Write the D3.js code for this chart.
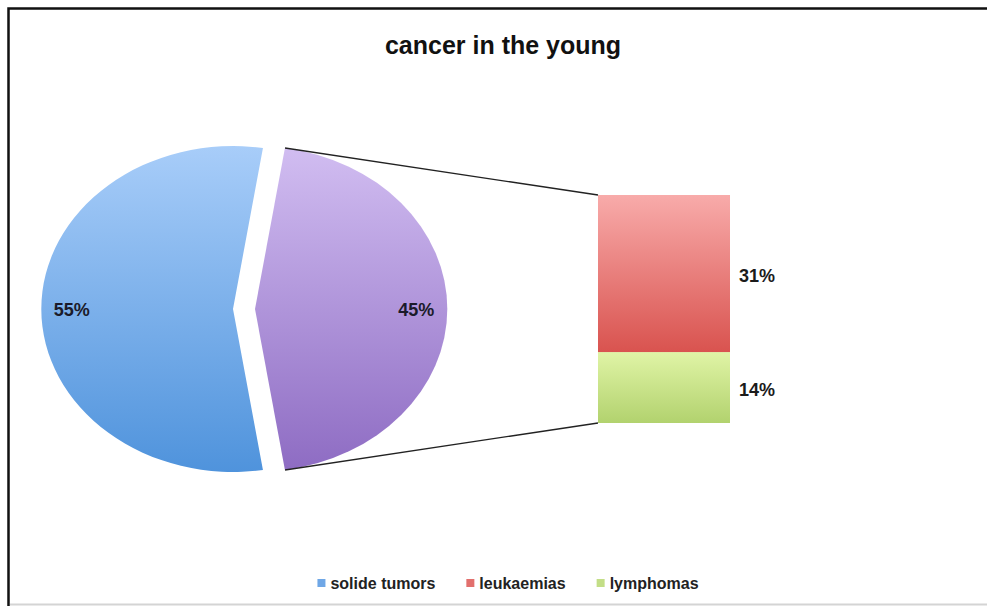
<!DOCTYPE html>
<html>
<head>
<meta charset="utf-8">
<script src="https://cdn.jsdelivr.net/npm/d3@7"></script>
<style>
  body { margin: 0; background: #fff; overflow: hidden; }
  svg { display: block; }
</style>
</head>
<body>
<svg id="chart" width="987" height="606"></svg>
<script>
//Data
var pieNames = ["solide tumors", "other"];
var pieValues = [55, 45];
var barNames = ["lymphomas", "leukaemias"];
var barValues = [14, 31];
var legendNames = ["solide tumors", "leukaemias", "lymphomas"];

var svg = d3.select("#chart");
var font = "'Liberation Sans', Arial, sans-serif";

//Frame
svg.append("rect")
   .attr("x", 8.5).attr("y", 8.5)
   .attr("width", 1020).attr("height", 640)
   .style("fill", "#fff")
   .style("stroke", "#111")
   .style("stroke-width", 2.5);
svg.append("line")
   .attr("x1", 10).attr("x2", 987).attr("y1", 604.5).attr("y2", 604.5)
   .style("stroke", "#d4d4d4").style("stroke-width", 2);

//Gradients
var defs = svg.append("defs");
function grad(id, top, bottom) {
    var g = defs.append("linearGradient").attr("id", id)
                .attr("x1", 0).attr("y1", 0).attr("x2", 0).attr("y2", 1);
    g.append("stop").attr("offset", "0%").attr("stop-color", top);
    g.append("stop").attr("offset", "100%").attr("stop-color", bottom);
}
grad("gBlue", "#a8cdf9", "#4f93dc");
grad("gPurple", "#d1bdf1", "#8e6cc3");
grad("gRed", "#f8abaa", "#d9534f");
grad("gGreen", "#e0f4a6", "#b2d26e");

//Title
svg.append("text")
   .attr("x", 503).attr("y", 54)
   .attr("text-anchor", "middle")
   .style("font-family", font)
   .style("font-weight", "bold")
   .style("font-size", "25px")
   .style("fill", "#111")
   .text("cancer in the young");

//Pie
var cx = 244, cy = 309, rx = 192, ry = 163, explode = 11;
var deg = Math.PI / 180;
var pie = d3.pie().sort(null).startAngle(171 * deg).endAngle(531 * deg);
var arcs = pie(pieValues);
var arc = d3.arc().innerRadius(0).outerRadius(1);
var fills = ["url(#gBlue)", "url(#gPurple)"];

function offset(d) {
    var mid = (d.startAngle + d.endAngle) / 2;
    return [cx + explode * Math.sin(mid), cy - explode * Math.cos(mid)];
}

var slices = svg.append("g").selectAll("g")
    .data(arcs).enter().append("g")
    .attr("transform", function(d){
        var o = offset(d);
        return "translate(" + o[0] + "," + o[1] + ")";
    });
slices.append("path")
    .attr("transform", "scale(" + rx + "," + ry + ")")
    .attr("d", arc)
    .style("fill", function(d, i){ return fills[i]; });

//Pie labels
slices.append("text")
    .attr("x", function(d){ var mid = (d.startAngle + d.endAngle) / 2; return 0.84 * rx * Math.sin(mid); })
    .attr("y", function(d){ var mid = (d.startAngle + d.endAngle) / 2; return -0.84 * ry * Math.cos(mid) + 7; })
    .attr("text-anchor", "middle")
    .style("font-family", font)
    .style("font-weight", "bold")
    .style("font-size", "18px")
    .style("fill", "#1b1b2a")
    .text(function(d){ return d.value + "%"; });

//Bar
var barX = 598, barW = 132;
var yScale = d3.scaleLinear().domain([0, d3.sum(barValues)]).range([423, 195]);
var stacked = [];
var acc = 0;
barValues.forEach(function(v, i){
    stacked.push({ name: barNames[i], value: v, y0: acc, y1: acc + v });
    acc += v;
});
var barFills = { lymphomas: "url(#gGreen)", leukaemias: "url(#gRed)" };

svg.append("g").selectAll("rect")
   .data(stacked).enter().append("rect")
   .attr("x", barX)
   .attr("y", function(d){ return yScale(d.y1); })
   .attr("width", barW)
   .attr("height", function(d){ return yScale(d.y0) - yScale(d.y1); })
   .style("fill", function(d){ return barFills[d.name]; });

svg.append("g").selectAll("text")
   .data(stacked).enter().append("text")
   .attr("x", barX + barW + 9)
   .attr("y", function(d){ return (yScale(d.y0) + yScale(d.y1)) / 2 + 8; })
   .style("font-family", font)
   .style("font-weight", "bold")
   .style("font-size", "18px")
   .style("fill", "#1b1b1b")
   .text(function(d){ return d.value + "%"; });

//Connector lines
var other = arcs[1];
var oo = offset(other);
var p1 = [oo[0] + rx * Math.sin(other.startAngle), oo[1] - ry * Math.cos(other.startAngle)];
var p2 = [oo[0] + rx * Math.sin(other.endAngle), oo[1] - ry * Math.cos(other.endAngle)];
var connectors = [
    [p1, [barX, yScale(d3.sum(barValues))]],
    [p2, [barX, yScale(0)]]
];
svg.append("g").selectAll("line")
   .data(connectors).enter().append("line")
   .attr("x1", function(d){ return d[0][0]; })
   .attr("y1", function(d){ return d[0][1]; })
   .attr("x2", function(d){ return d[1][0]; })
   .attr("y2", function(d){ return d[1][1]; })
   .style("stroke", "#222")
   .style("stroke-width", 1.3);

//Legend
var legendColors = ["#6fa7e6", "#e2706d", "#c3de87"];
var legend = svg.append("g");
var items = legend.selectAll("g").data(legendNames).enter().append("g");
items.append("rect")
     .attr("width", 8).attr("height", 8)
     .attr("y", -10)
     .style("fill", function(d, i){ return legendColors[i]; });
items.append("text")
     .attr("x", 13)
     .style("font-family", font)
     .style("font-weight", "bold")
     .style("font-size", "16px")
     .style("fill", "#222")
     .text(function(d){ return d; });
var xPos = 0;
var widths = [];
items.each(function(){ widths.push(d3.select(this).select("text").node().getComputedTextLength() + 13); });
var gap = 31;
var total = d3.sum(widths) + gap * (widths.length - 1);
var start = 508 - total / 2;
items.attr("transform", function(d, i){
    var x = start + xPos;
    xPos += widths[i] + gap;
    return "translate(" + x + ",589)";
});
</script>
</body>
</html>
